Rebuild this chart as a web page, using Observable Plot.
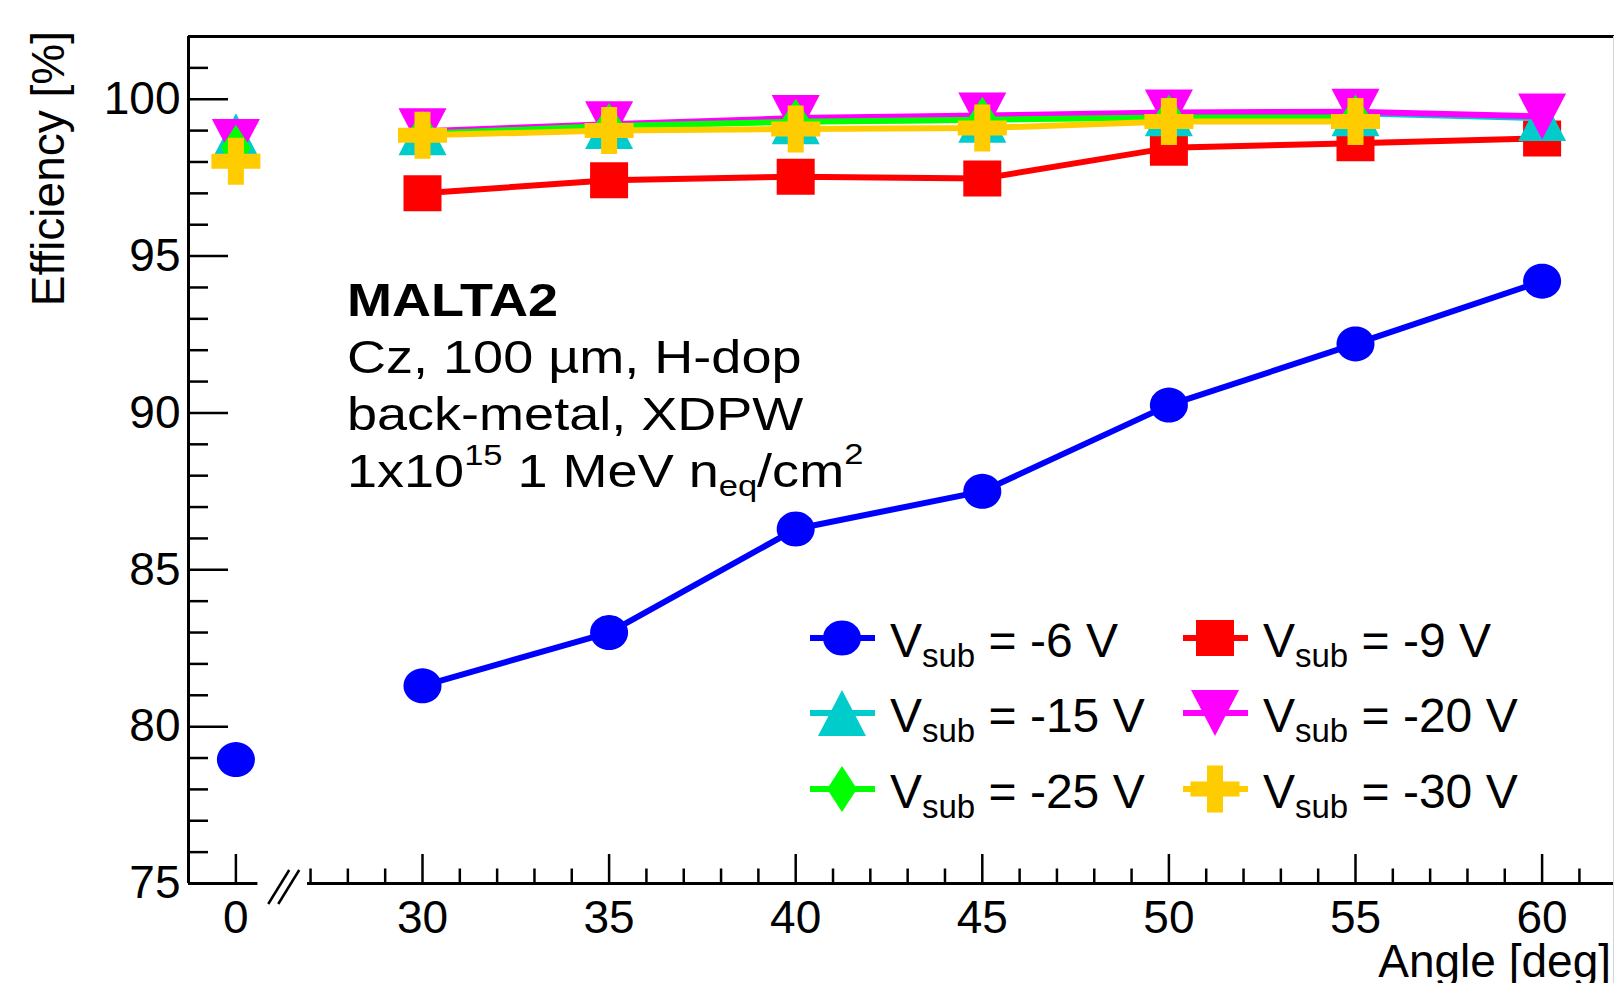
<!DOCTYPE html>
<html><head><meta charset="utf-8">
<script src="https://cdn.jsdelivr.net/npm/d3@7"></script>
<script src="https://cdn.jsdelivr.net/npm/@observablehq/plot@0.6"></script>
<style>
html,body{margin:0;padding:0;background:#fff;}
#chart svg{display:block;}
</style>
</head><body><div id="chart"></div>
<script>
// ---------------- data ----------------
const angles = [0, 30, 35, 40, 45, 50, 55, 60];
const effM6  = [78.95, 81.30, 83.00, 86.30, 87.50, 90.25, 92.20, 94.20];
const effM9  = [null, 97.00, 97.42, 97.53, 97.47, 98.45, 98.60, 98.75];
const effM15 = [98.82, 98.95, 99.15, 99.30, 99.35, 99.55, 99.55, 99.40];
const effM20 = [98.64, 98.98, 99.20, 99.40, 99.48, 99.58, 99.60, 99.45];
const effM25 = [98.45, 98.90, 99.15, 99.28, 99.35, 99.42, 99.42, null];
const effM30 = [98.02, 98.85, 99.00, 99.05, 99.08, 99.29, 99.29, null];
const seriesValues = [effM6, effM9, effM15, effM20, effM25, effM30];
const seriesLabels = ["-6 V", "-9 V", "-15 V", "-20 V", "-25 V", "-30 V"];
const seriesColors = ["#0000ff", "#ff0000", "#00cccc", "#ff00ff", "#00ff00", "#ffcc00"];
const xTickValues = [0, 30, 35, 40, 45, 50, 55, 60];
const yTickValues = [75, 80, 85, 90, 95, 100];
const textLines = ["MALTA2", "Cz, 100 µm, H-dop", "back-metal, XDPW"];

// broken axis: angle 0 is drawn 5 units left of 30
const pos = a => (a === 0 ? 25 : a);
const FONT = "'Liberation Sans', Arial, Helvetica, sans-serif";

// ---------------- ROOT-like marker shapes ----------------
function poly(pts) {
  return {draw(c, size) {
    const s = Math.sqrt(size / Math.PI);
    pts.forEach(([x, y], i) => (i ? c.lineTo(x * s, y * s) : c.moveTo(x * s, y * s)));
    c.closePath();
  }};
}
const ellipsePts = d3.range(48).map(i => [19 * Math.cos(2 * Math.PI * i / 48), 17.5 * Math.sin(2 * Math.PI * i / 48)]);
const symCircle = poly(ellipsePts);
const symSquare = poly([[-19, -18], [19, -18], [19, 18], [-19, 18]]);
const symTriUp = poly([[-24, 23], [24, 23], [0, -23]]);
const symTriDown = poly([[-24, -23], [24, -23], [0, 23]]);
const symDiamond = poly([[0, -23], [15, 0], [0, 23], [-15, 0]]);
const symCross = poly([[-8, -23.5], [8, -23.5], [8, -7.5], [24.5, -7.5], [24.5, 7.5], [8, 7.5], [8, 23.5], [-8, 23.5], [-8, 7.5], [-24.5, 7.5], [-24.5, -7.5], [-8, -7.5]]);
const seriesSymbols = [symCircle, symSquare, symTriUp, symTriDown, symDiamond, symCross];

// ---------------- axis layout ----------------
const xDomain = [23.73, 61.94];
const yDomain = [75, 102];
const xMajorPos = xTickValues.map(pos);
const xLabelOf = new Map(xTickValues.map(a => [pos(a), String(a)]));
const xMinor = d3.range(27, 62).filter(v => v % 5 !== 0);
const yMinor = d3.range(76, 102).filter(v => v % 5 !== 0);
const xAxisSegments = [{a: xDomain[0], b: 25.59}, {a: 26.92, b: xDomain[1]}];

// ---------------- marks ----------------
const marks = [];
// frame: left axis, top line, broken bottom axis
marks.push(Plot.ruleX([xDomain[0]], {stroke: "#000", strokeWidth: 3}));
marks.push(Plot.ruleY([yDomain[1]], {stroke: "#000", strokeWidth: 3}));
marks.push(Plot.ruleY(xAxisSegments, {y: () => 75, x1: "a", x2: "b", stroke: "#000", strokeWidth: 3}));
// inward ticks
marks.push(Plot.axisY({ticks: yTickValues, tickSize: -40, tickFormat: () => "", label: null, strokeWidth: 2.5, stroke: "#000"}));
marks.push(Plot.axisY({ticks: yMinor, tickSize: -20, tickFormat: () => "", label: null, strokeWidth: 2.5, stroke: "#000"}));
marks.push(Plot.axisX({ticks: xMajorPos, tickSize: -29, tickFormat: () => "", label: null, strokeWidth: 2.5, stroke: "#000"}));
marks.push(Plot.axisX({ticks: xMinor, tickSize: -14.5, tickFormat: () => "", label: null, strokeWidth: 2.5, stroke: "#000"}));
// tick labels
marks.push(Plot.axisY({ticks: yTickValues, tickSize: 0, tickPadding: 8, fontSize: 46, label: null, fill: "#000"}));
marks.push(Plot.axisX({ticks: xMajorPos, tickSize: 0, tickPadding: 17, fontSize: 46, label: null, fill: "#000",
  tickFormat: d => xLabelOf.get(d)}));

// series
seriesValues.forEach((vals, i) => {
  const data = angles.map((a, j) => ({a, v: vals[j]})).filter(d => d.v != null);
  const lineData = data.filter(d => d.a > 0);
  marks.push(Plot.line(lineData, {x: d => pos(d.a), y: "v", stroke: seriesColors[i], strokeWidth: 6, strokeLinejoin: "miter", strokeLinecap: "butt"}));
  marks.push(Plot.dot(data, {x: d => pos(d.a), y: "v", symbol: seriesSymbols[i], r: 1, fill: seriesColors[i], stroke: "none"}));
});

// decorations: break marks, titles, text block, legend
marks.push((index, scales) => {
  const g = d3.create("svg:g").attr("font-family", FONT).attr("fill", "#000").attr("text-anchor", "start");
  const x = scales.x, y = scales.y;
  // axis break "//"
  const gx = (x(25.59) + x(26.92)) / 2, y0 = y(75);
  [[-14, 7], [-4, 17]].forEach(([a, b]) => {
    g.append("line").attr("x1", gx + a).attr("y1", y0 + 21).attr("x2", gx + b).attr("y2", y0 - 13)
      .attr("stroke", "#000").attr("stroke-width", 2.5);
  });
  // faint right border of the frame
  g.append("line").attr("x1", 1613.5).attr("x2", 1613.5).attr("y1", y(102)).attr("y2", 983)
    .attr("stroke", "#d4d4d4").attr("stroke-width", 1);
  // axis titles
  g.append("text").attr("transform", "translate(64,31) rotate(-90)").attr("text-anchor", "end")
    .attr("font-size", 46).text("Efficiency [%]");
  g.append("text").attr("x", 1611).attr("y", 977).attr("text-anchor", "end")
    .attr("font-size", 46).text("Angle [deg]");
  // text block
  const tb = g.append("g").attr("transform", "translate(347,0) scale(1.15,1)").attr("font-size", 47)
    .attr("text-anchor", "start");
  tb.append("text").attr("x", 0).attr("y", 316).attr("font-weight", "bold").text(textLines[0]);
  tb.append("text").attr("x", 0).attr("y", 373).text(textLines[1]);
  tb.append("text").attr("x", 0).attr("y", 430).text(textLines[2]);
  const t4 = tb.append("text").attr("x", 0).attr("y", 487);
  t4.append("tspan").text("1x10");
  t4.append("tspan").attr("font-size", 30).attr("dy", -22).text("15");
  t4.append("tspan").attr("dy", 22).text(" 1 MeV n");
  t4.append("tspan").attr("font-size", 30).attr("dy", 9).text("eq");
  t4.append("tspan").attr("dy", -9).text("/cm");
  t4.append("tspan").attr("font-size", 30).attr("dy", -23).text("2");
  // legend
  const colX = [842, 1215];
  const rowY = [638, 713, 789];
  seriesLabels.forEach((lab, i) => {
    const cx = colX[i % 2], cy = rowY[Math.floor(i / 2)];
    g.append("line").attr("x1", cx - 32).attr("x2", cx + 33).attr("y1", cy).attr("y2", cy)
      .attr("stroke", seriesColors[i]).attr("stroke-width", 6);
    g.append("path").attr("transform", `translate(${cx},${cy})`)
      .attr("d", d3.symbol(seriesSymbols[i], Math.PI)()).attr("fill", seriesColors[i]);
    const t = g.append("text").attr("x", cx + 48).attr("y", cy + 19).attr("font-size", 48)
      .attr("text-anchor", "start");
    t.append("tspan").text("V");
    t.append("tspan").attr("font-size", 33).attr("dy", 10).text("sub");
    t.append("tspan").attr("dy", -10).text(" = " + lab);
  });
  return g.node();
});

const chart = Plot.plot({
  width: 1614, height: 983,
  marginLeft: 188, marginRight: 0, marginTop: 36, marginBottom: 100,
  x: {type: "linear", domain: xDomain, axis: null},
  y: {type: "linear", domain: yDomain, axis: null},
  style: {fontFamily: FONT, background: "#fff", color: "#000", overflow: "visible"},
  marks
});
document.getElementById("chart").appendChild(chart);
</script>
</body></html>
